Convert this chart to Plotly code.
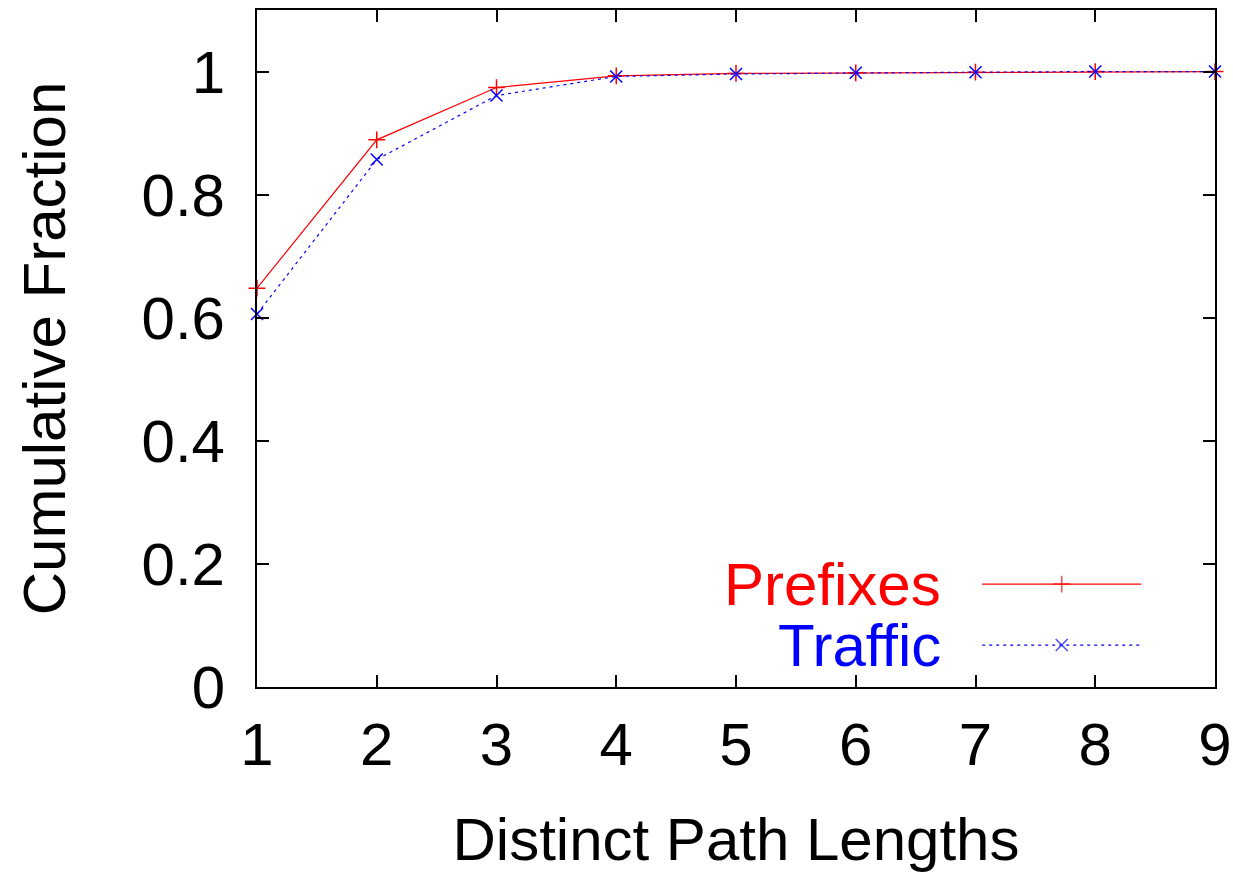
import plotly.graph_objects as go

path_lengths = [1, 2, 3, 4, 5, 6, 7, 8, 9]
prefixes = [0.648, 0.889, 0.974, 0.993, 0.997, 0.998, 0.999, 1.0, 1.0]
traffic = [0.606, 0.857, 0.961, 0.992, 0.996, 0.998, 0.999, 1.0, 1.0]
series_names = ["Prefixes", "Traffic"]
series_colors = ["#ff0000", "#0000ff"]

FONT = "Liberation Sans, Arial, sans-serif"
FS = 60

fig = go.Figure()
fig.add_trace(go.Scatter(
    x=path_lengths, y=prefixes, mode="lines+markers", name=series_names[0],
    line=dict(color=series_colors[0], width=1.2),
    marker=dict(symbol="cross-thin", size=12, line=dict(color=series_colors[0], width=1.5)),
    showlegend=False, cliponaxis=False))
fig.add_trace(go.Scatter(
    x=path_lengths, y=traffic, mode="lines+markers", name=series_names[1],
    line=dict(color=series_colors[1], width=1.2, dash="3px,4px"),
    marker=dict(symbol="x-thin", size=12, line=dict(color=series_colors[1], width=1.5)),
    showlegend=False, cliponaxis=False))

# custom gnuplot-style key (text left, sample right) on an overlay axis in fraction units
key_x = [0.757, 0.840, 0.923]
key_y = [0.152, 0.062]
key_dash = ["solid", "3px,4px"]
key_sym = ["cross-thin", "x-thin"]
for i in range(2):
    fig.add_trace(go.Scatter(
        x=key_x, y=[key_y[i]] * 3, xaxis="x2", yaxis="y2", mode="lines+markers",
        line=dict(color=series_colors[i], width=1.2, dash=key_dash[i]),
        marker=dict(symbol=key_sym[i], size=[0, 12, 0],
                    line=dict(color=series_colors[i], width=1.5)),
        showlegend=False, hoverinfo="skip"))
    fig.add_annotation(text=series_names[i], xref="x2 domain", yref="y2 domain",
                       x=0.716, y=key_y[i], xanchor="right", yanchor="middle",
                       showarrow=False, font=dict(family=FONT, size=FS, color=series_colors[i]))

axis_common = dict(showline=True, linecolor="black", linewidth=2, mirror="allticks",
                   ticks="inside", ticklen=12, tickwidth=1.5, tickcolor="black",
                   showgrid=False, zeroline=False, automargin=False,
                   tickfont=dict(family=FONT, size=FS, color="black"))

fig.update_layout(
    width=1233, height=873,
    margin=dict(l=257, r=18, t=10, b=186),
    plot_bgcolor="white", paper_bgcolor="white",
    xaxis=dict(range=[1, 9], dtick=1, tick0=1,
               title=dict(text="Distinct Path Lengths", font=dict(family=FONT, size=FS, color="black"), standoff=55),
               ticklabelstandoff=4, **axis_common),
    yaxis=dict(range=[0, 1.1], dtick=0.2, tick0=0, tickformat="~g",
               title=dict(text="Cumulative Fraction", font=dict(family=FONT, size=FS, color="black"), standoff=57),
               ticklabelstandoff=18, **axis_common),
    xaxis2=dict(range=[0, 1], overlaying="x", visible=False, fixedrange=True),
    yaxis2=dict(range=[0, 1], overlaying="y", visible=False, fixedrange=True),
)

fig.write_html("out.html")
